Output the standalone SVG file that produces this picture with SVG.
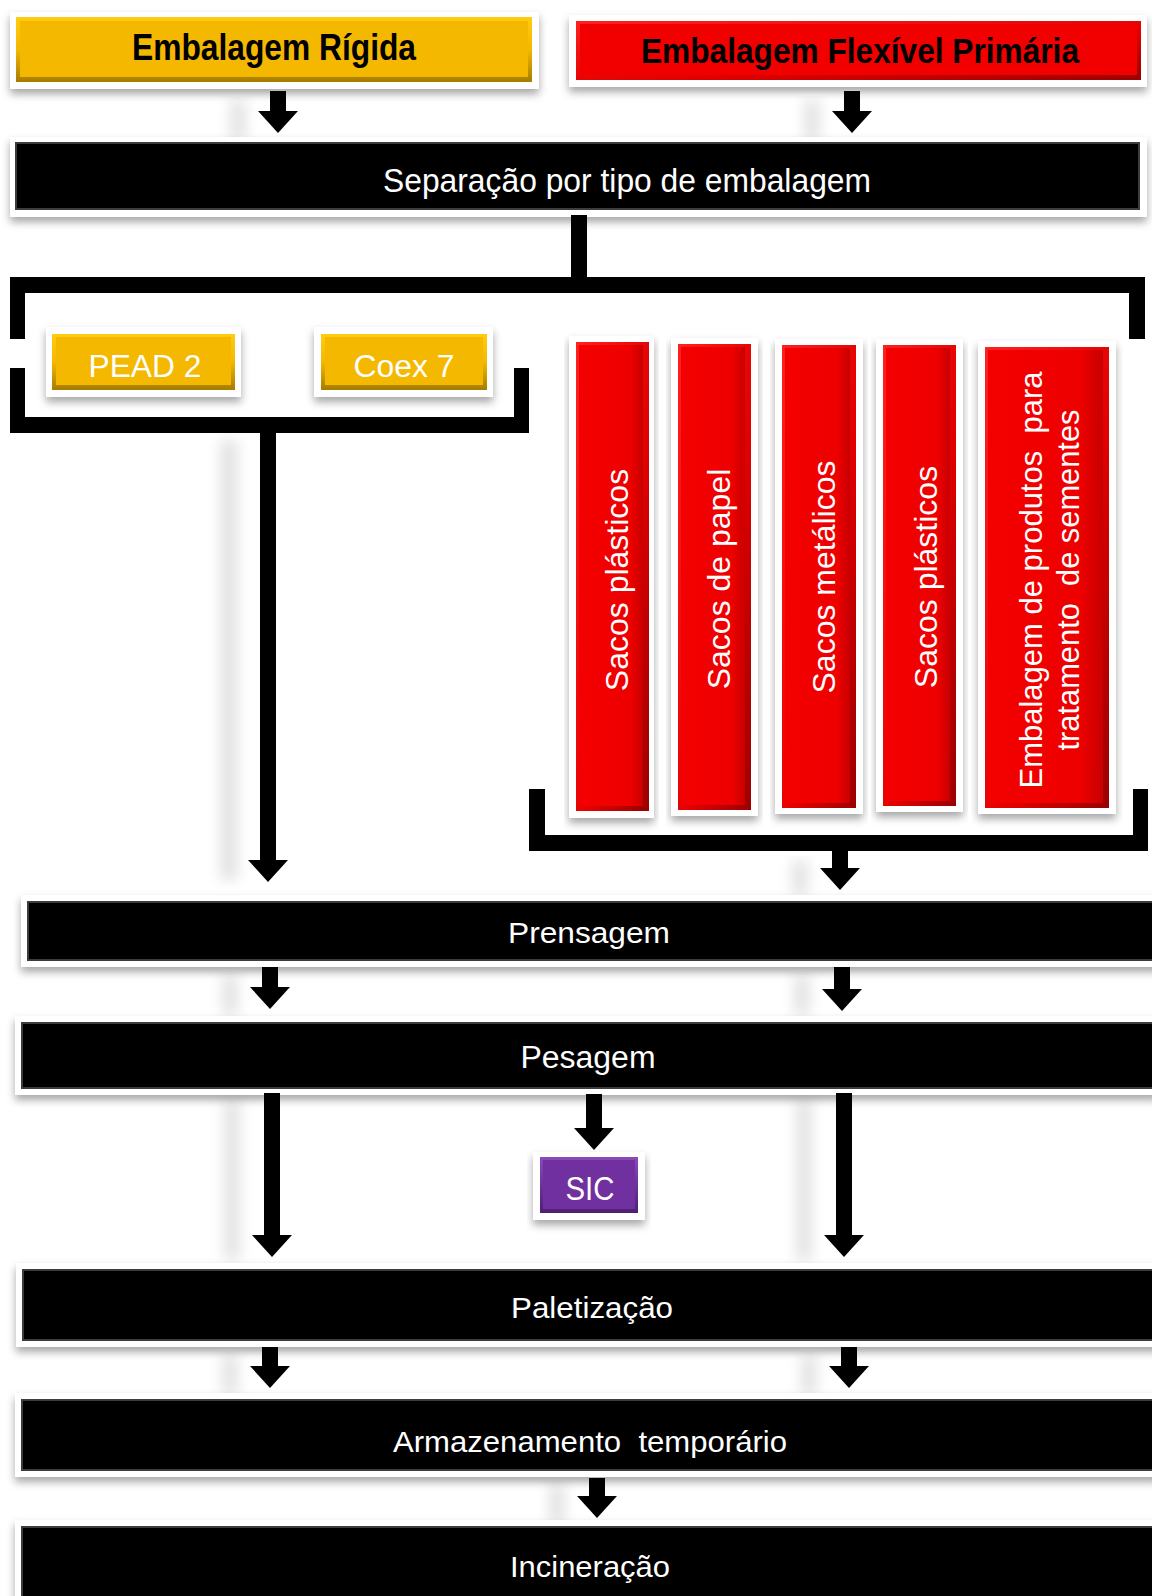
<svg xmlns="http://www.w3.org/2000/svg" width="1152" height="1596" viewBox="0 0 1152 1596">
  <defs>
    <style>
      .frame { fill: #ffffff; filter: url(#boxShadow); }
      .dark { fill: #000000; stroke: #3c3c3c; stroke-width: 2; }
      .gold { fill: url(#goldBevel); }
      .goldFace { fill: #F4B800; }
      .red { fill: url(#redBevel); }
      .redFace { fill: url(#redFace); }
      .purple { fill: url(#purpleBevel); }
      .purpleFace { fill: #7030A0; }
      .t { font-family: "Liberation Sans", Arial, sans-serif; text-anchor: middle; }
      .tw { fill: #ffffff; }
      .tb { fill: #000000; font-weight: bold; }
      .link { fill: none; stroke: #000000; stroke-width: 16; }
      .bar { fill: #000000; }
      .ghost { fill: #000000; opacity: 0.11; filter: url(#blur); }
    </style>
    <filter id="boxShadow" x="-5%" y="-30%" width="110%" height="170%">
      <feDropShadow dx="0" dy="5" stdDeviation="4" flood-color="#000000" flood-opacity="0.35"/>
    </filter>
    <filter id="blur" x="-100%" y="-10%" width="300%" height="120%">
      <feGaussianBlur stdDeviation="7"/>
    </filter>
    <linearGradient id="goldBevel" x1="0" y1="0" x2="0" y2="1">
      <stop offset="0" stop-color="#FFCC10"/>
      <stop offset="0.5" stop-color="#F4B800"/>
      <stop offset="1" stop-color="#A67C00"/>
    </linearGradient>
    <linearGradient id="redBevel" x1="0" y1="0" x2="1" y2="1">
      <stop offset="0" stop-color="#FF2020"/>
      <stop offset="0.6" stop-color="#E00000"/>
      <stop offset="1" stop-color="#9A0000"/>
    </linearGradient>
    <linearGradient id="redFace" x1="0" y1="0" x2="1" y2="0">
      <stop offset="0" stop-color="#F40000"/>
      <stop offset="0.8" stop-color="#EE0000"/>
      <stop offset="1" stop-color="#C80000"/>
    </linearGradient>
    <linearGradient id="purpleBevel" x1="0" y1="0" x2="0" y2="1">
      <stop offset="0" stop-color="#8A48BC"/>
      <stop offset="1" stop-color="#4E1F74"/>
    </linearGradient>
    <marker id="head" viewBox="0 0 22 40" markerWidth="22" markerHeight="40" refX="1" refY="20" orient="auto" markerUnits="userSpaceOnUse">
      <path d="M0,0 L22,20 L0,40 Z" fill="#000000"/>
    </marker>
  </defs>

  <rect x="0" y="0" width="1152" height="1596" fill="#ffffff"/>

  <!-- soft cast shadows of the arrows -->
  <g id="connector-shadows">
    <rect class="ghost" x="230" y="100" width="16" height="40"/>
    <rect class="ghost" x="804" y="100" width="16" height="40"/>
    <rect class="ghost" x="220" y="440" width="18" height="440"/>
    <rect class="ghost" x="792" y="860" width="16" height="36"/>
    <rect class="ghost" x="222" y="975" width="16" height="40"/>
    <rect class="ghost" x="794" y="975" width="16" height="40"/>
    <rect class="ghost" x="224" y="1100" width="16" height="160"/>
    <rect class="ghost" x="796" y="1100" width="16" height="160"/>
    <rect class="ghost" x="222" y="1355" width="16" height="40"/>
    <rect class="ghost" x="801" y="1355" width="16" height="40"/>
    <rect class="ghost" x="549" y="1484" width="16" height="40"/>
  </g>

  <g id="rigida">
    <rect class="frame" x="10" y="12" width="529" height="77"/>
    <rect class="gold" x="16" y="17" width="516" height="65"/>
    <rect class="goldFace" x="20" y="21" width="508" height="56"/>
    <text class="t tb" x="274" y="60" font-size="37" textLength="284" lengthAdjust="spacingAndGlyphs">Embalagem Rígida</text>
  </g>

  <g id="flexivel">
    <rect class="frame" x="569" y="15" width="578" height="72"/>
    <rect class="red" x="576" y="21" width="565" height="59"/>
    <rect x="580" y="24" width="557" height="51" fill="#F20000"/>
    <text class="t tb" x="860" y="63" font-size="35" textLength="438" lengthAdjust="spacingAndGlyphs">Embalagem Flexível Primária</text>
  </g>

  <g id="separacao">
    <rect class="frame" x="10" y="137" width="1137" height="80"/>
    <rect class="dark" x="16" y="143" width="1123" height="66"/>
    <text class="t tw" x="627" y="192" font-size="33" textLength="488" lengthAdjust="spacingAndGlyphs">Separação por tipo de embalagem</text>
  </g>

  <g id="pead2">
    <rect class="frame" x="46" y="327" width="195" height="70"/>
    <rect class="gold" x="52" y="334" width="183" height="56"/>
    <rect class="goldFace" x="56" y="337" width="175" height="48"/>
    <text class="t tw" x="145" y="377" font-size="31" textLength="113" lengthAdjust="spacingAndGlyphs">PEAD 2</text>
  </g>

  <g id="coex7">
    <rect class="frame" x="314" y="327" width="179" height="70"/>
    <rect class="gold" x="321" y="334" width="166" height="56"/>
    <rect class="goldFace" x="325" y="337" width="158" height="48"/>
    <text class="t tw" x="404" y="377" font-size="31" textLength="101" lengthAdjust="spacingAndGlyphs">Coex 7</text>
  </g>

  <g id="sacos-plasticos-1">
    <rect class="frame" x="569" y="336" width="85" height="482"/>
    <rect class="red" x="576" y="342" width="73" height="469"/>
    <rect class="redFace" x="579" y="345" width="64" height="461"/>
    <text class="t tw" transform="translate(628,580) rotate(-90)" font-size="32">Sacos plásticos</text>
  </g>

  <g id="sacos-papel">
    <rect class="frame" x="671" y="338" width="87" height="478"/>
    <rect class="red" x="678" y="344" width="73" height="466"/>
    <rect class="redFace" x="681" y="347" width="64" height="458"/>
    <text class="t tw" transform="translate(730,579) rotate(-90)" font-size="32">Sacos de papel</text>
  </g>

  <g id="sacos-metalicos">
    <rect class="frame" x="775" y="339" width="88" height="475"/>
    <rect class="red" x="782" y="345" width="74" height="463"/>
    <rect class="redFace" x="785" y="348" width="65" height="455"/>
    <text class="t tw" transform="translate(835,577) rotate(-90)" font-size="32">Sacos metálicos</text>
  </g>

  <g id="sacos-plasticos-2">
    <rect class="frame" x="876" y="339" width="87" height="473"/>
    <rect class="red" x="883" y="345" width="73" height="461"/>
    <rect class="redFace" x="886" y="348" width="64" height="453"/>
    <text class="t tw" transform="translate(937,577) rotate(-90)" font-size="32">Sacos plásticos</text>
  </g>

  <g id="sementes">
    <rect class="frame" x="978" y="341" width="138" height="473"/>
    <rect class="red" x="985" y="347" width="124" height="461"/>
    <rect class="redFace" x="988" y="350" width="115" height="453"/>
    <text class="t tw" transform="translate(1042,580) rotate(-90)" font-size="31" textLength="417" lengthAdjust="spacingAndGlyphs" style="white-space:pre">Embalagem de produtos  para</text>
    <text class="t tw" transform="translate(1079,580) rotate(-90)" font-size="31" textLength="341" lengthAdjust="spacingAndGlyphs" style="white-space:pre">tratamento  de sementes</text>
  </g>

  <g id="prensagem">
    <rect class="frame" x="21" y="895" width="1140" height="72"/>
    <rect class="dark" x="28" y="902" width="1130" height="58"/>
    <text class="t tw" x="589" y="943" font-size="30" textLength="162" lengthAdjust="spacingAndGlyphs">Prensagem</text>
  </g>

  <g id="pesagem">
    <rect class="frame" x="15" y="1016" width="1145" height="79"/>
    <rect class="dark" x="22" y="1023" width="1136" height="65"/>
    <text class="t tw" x="588" y="1068" font-size="31" textLength="135" lengthAdjust="spacingAndGlyphs">Pesagem</text>
  </g>

  <g id="sic">
    <rect class="frame" x="533" y="1152" width="112" height="68"/>
    <rect class="purple" x="540" y="1157" width="98" height="56"/>
    <rect class="purpleFace" x="543" y="1160" width="92" height="49"/>
    <text class="t tw" x="590" y="1200" font-size="33" textLength="49" lengthAdjust="spacingAndGlyphs">SIC</text>
  </g>

  <g id="paletizacao">
    <rect class="frame" x="16" y="1263" width="1145" height="84"/>
    <rect class="dark" x="23" y="1270" width="1135" height="70"/>
    <text class="t tw" x="592" y="1318" font-size="30" textLength="162" lengthAdjust="spacingAndGlyphs">Paletização</text>
  </g>

  <g id="armazenamento">
    <rect class="frame" x="15" y="1393" width="1145" height="84"/>
    <rect class="dark" x="22" y="1400" width="1136" height="70"/>
    <text class="t tw" x="590" y="1452" font-size="30" textLength="394" lengthAdjust="spacingAndGlyphs" style="white-space:pre">Armazenamento  temporário</text>
  </g>

  <g id="incineracao">
    <rect class="frame" x="15" y="1520" width="1145" height="90"/>
    <rect class="dark" x="22" y="1527" width="1136" height="80"/>
    <text class="t tw" x="590" y="1577" font-size="30" textLength="160" lengthAdjust="spacingAndGlyphs">Incineração</text>
  </g>

  <g id="connectors">
    <!-- sorting brackets -->
    <rect class="bar" x="571" y="215" width="16" height="64"/>
    <rect class="bar" x="10" y="277" width="1135" height="16"/>
    <rect class="bar" x="10" y="277" width="15" height="62"/>
    <rect class="bar" x="1129" y="277" width="16" height="62"/>
    <rect class="bar" x="10" y="368" width="15" height="65"/>
    <rect class="bar" x="10" y="417" width="519" height="16"/>
    <rect class="bar" x="514" y="368" width="15" height="65"/>
    <rect class="bar" x="529" y="789" width="16" height="62"/>
    <rect class="bar" x="529" y="835" width="619" height="16"/>
    <rect class="bar" x="1133" y="789" width="15" height="62"/>
    <!-- flow arrows -->
    <path class="link" d="M278,91 V112" marker-end="url(#head)"/>
    <path class="link" d="M852,91 V112" marker-end="url(#head)"/>
    <path class="link" d="M268,432 V861" marker-end="url(#head)"/>
    <path class="link" d="M840,850 V869" marker-end="url(#head)"/>
    <path class="link" d="M270,967 V988" marker-end="url(#head)"/>
    <path class="link" d="M842,967 V990" marker-end="url(#head)"/>
    <path class="link" d="M272,1093 V1236" marker-end="url(#head)"/>
    <path class="link" d="M844,1093 V1236" marker-end="url(#head)"/>
    <path class="link" d="M594,1094 V1129" marker-end="url(#head)"/>
    <path class="link" d="M270,1347 V1367" marker-end="url(#head)"/>
    <path class="link" d="M849,1347 V1367" marker-end="url(#head)"/>
    <path class="link" d="M597,1478 V1497" marker-end="url(#head)"/>
  </g>
</svg>
